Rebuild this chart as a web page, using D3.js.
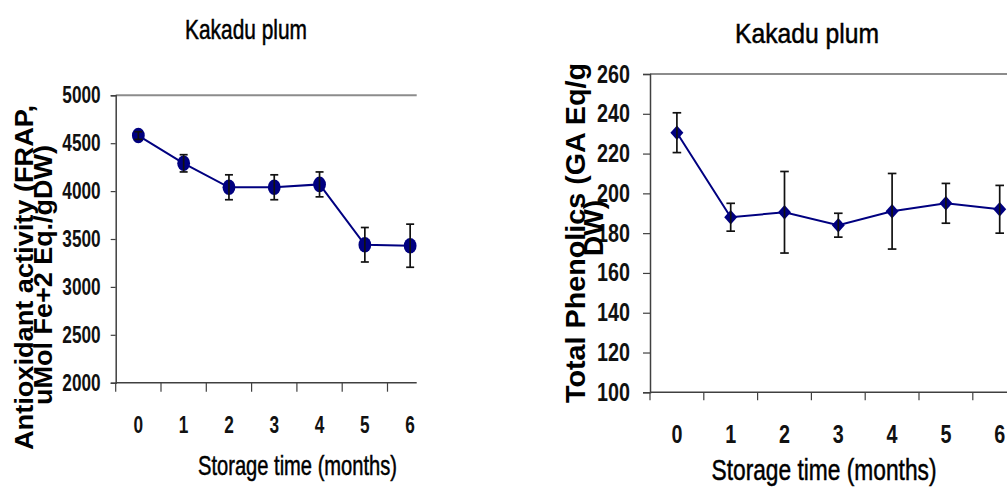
<!DOCTYPE html>
<html>
<head>
<meta charset="utf-8">
<script src="https://cdn.jsdelivr.net/npm/d3@7"></script>
<style>
  html, body { margin: 0; padding: 0; background: #fff; }
  svg { display: block; }
  .narrow { font-family: "Liberation Sans Narrow", "Arial Narrow", "Liberation Sans", Arial, sans-serif; }
  .bold { font-family: "Liberation Sans", Arial, sans-serif; font-weight: bold; }
</style>
</head>
<body>
<svg id="chart" width="1007" height="487"></svg>
<script>
// ---- data ----
const months = ["0", "1", "2", "3", "4", "5", "6"];
const frapMean = [4580, 4290, 4040, 4040, 4070, 3440, 3430];
const frapErr  = [40, 90, 130, 130, 130, 180, 225];
const phenMean = [230.5, 188, 190.5, 184, 191, 195, 192];
const phenErr  = [10, 7, 20.5, 6, 19, 10, 12];
const frapTicks = [2000, 2500, 3000, 3500, 4000, 4500, 5000];
const phenTicks = [100, 120, 140, 160, 180, 200, 220, 240, 260];
const titleText = "Kakadu plum";
const xTitle = "Storage time (months)";
const frapYTitle = ["Antioxidant activity (FRAP,", "uMol Fe+2 Eq./gDW)"];
const phenYTitle = ["Total Phenolics (GA Eq/g", "DW)"];

const svg = d3.select("#chart");
const navy = "#000080";

function panel(cfg) {
  const g = svg.append("g");
  const x = d3.scaleBand().domain(months).range([cfg.left, cfg.left + 7 * cfg.step]).padding(0);
  const y = d3.scaleLinear().domain(cfg.domain).range([cfg.bottom, cfg.top]);

  // top border (grey)
  g.append("line").attr("x1", cfg.left).attr("x2", cfg.clipRight)
    .attr("y1", y(cfg.domain[1])).attr("y2", y(cfg.domain[1]))
    .attr("stroke", "#8c8c8c").attr("stroke-width", 2);

  // y axis
  const yAxis = d3.axisLeft(y).tickValues(cfg.ticks).tickFormat(d3.format("d"))
    .tickSize(cfg.yTickLen).tickPadding(cfg.yPad);
  const ya = g.append("g").attr("transform", `translate(${cfg.left},0)`).call(yAxis);
  ya.select(".domain").attr("stroke", "#404040").attr("stroke-width", 1.5);
  ya.selectAll(".tick line").attr("stroke", "#404040").attr("stroke-width", 1.2);
  ya.selectAll(".tick text").attr("class", "narrow").attr("font-size", cfg.tickFont)
    .attr("fill", "#111").attr("font-weight", "bold")
    .attr("x", 0)
    .attr("transform", `translate(${-(cfg.yTickLen + cfg.yPad)},0) scale(${cfg.squeeze},1)`);

  // x axis line
  g.append("line").attr("x1", cfg.left).attr("x2", cfg.clipRight)
    .attr("y1", cfg.bottom).attr("y2", cfg.bottom)
    .attr("stroke", "#404040").attr("stroke-width", 1.5);
  // x ticks at band boundaries
  g.selectAll(".xt").data(months).enter().append("line")
    .attr("x1", d => x(d)).attr("x2", d => x(d))
    .attr("y1", cfg.bottom).attr("y2", cfg.bottom + cfg.xTickLen)
    .attr("stroke", "#404040").attr("stroke-width", 1.2);
  // x tick labels
  g.selectAll(".xl").data(months).enter().append("text")
    .attr("class", "narrow")
    .attr("transform", d => `translate(${x(d) + x.bandwidth() / 2},${cfg.xLabelY}) scale(${cfg.squeeze},1)`)
    .attr("text-anchor", "middle").attr("font-size", cfg.xTickFont)
    .attr("font-weight", "bold").attr("fill", "#111").text(d => d);

  const cx = d => x(d) + x.bandwidth() / 2;
  const pts = months.map((m, i) => ({ m, v: cfg.mean[i], e: cfg.err[i] }));

  // line
  g.append("path").datum(pts)
    .attr("d", d3.line().x(d => cx(d.m)).y(d => y(d.v)))
    .attr("fill", "none").attr("stroke", navy).attr("stroke-width", 2);

  // markers
  if (cfg.marker === "ellipse") {
    g.selectAll(".mk").data(pts).enter().append("ellipse")
      .attr("cx", d => cx(d.m)).attr("cy", d => y(d.v))
      .attr("rx", 6.4).attr("ry", 7.8).attr("fill", navy);
  } else {
    g.selectAll(".mk").data(pts).enter().append("path")
      .attr("d", d => {
        const px = cx(d.m), py = y(d.v), w = 6.5, h = 7.3;
        return `M${px},${py - h}L${px + w},${py}L${px},${py + h}L${px - w},${py}Z`;
      })
      .attr("fill", navy);
  }

  // error bars
  const eb = g.selectAll(".eb").data(pts).enter().append("g")
    .attr("stroke", "#111").attr("stroke-width", 1.7);
  eb.append("line").attr("x1", d => cx(d.m)).attr("x2", d => cx(d.m))
    .attr("y1", d => y(d.v + d.e)).attr("y2", d => y(d.v - d.e));
  eb.append("line").attr("x1", d => cx(d.m) - cfg.cap).attr("x2", d => cx(d.m) + cfg.cap)
    .attr("y1", d => y(d.v + d.e)).attr("y2", d => y(d.v + d.e));
  eb.append("line").attr("x1", d => cx(d.m) - cfg.cap).attr("x2", d => cx(d.m) + cfg.cap)
    .attr("y1", d => y(d.v - d.e)).attr("y2", d => y(d.v - d.e));

  // chart title
  g.append("text").attr("class", "narrow")
    .attr("x", cfg.titleX).attr("y", cfg.titleY).attr("text-anchor", "middle")
    .attr("font-size", cfg.titleFont).attr("fill", "#000")
    .attr("stroke", "#000").attr("stroke-width", 0.5)
    .attr("textLength", cfg.titleLen).attr("lengthAdjust", "spacingAndGlyphs")
    .text(titleText);

  // x title
  g.append("text").attr("class", "narrow")
    .attr("x", cfg.xTitleX).attr("y", cfg.xTitleY).attr("text-anchor", "middle")
    .attr("font-size", cfg.xTitleFont).attr("fill", "#000")
    .attr("stroke", "#000").attr("stroke-width", 0.5)
    .attr("textLength", cfg.xTitleLen).attr("lengthAdjust", "spacingAndGlyphs")
    .text(xTitle);

  // y title (two rotated lines)
  cfg.yTitle.forEach((t, i) => {
    const L = cfg.yLines[i];
    const el = g.append("text").attr("class", "bold")
      .attr("transform", `translate(${L.x},${L.cy}) rotate(-90)`)
      .attr("text-anchor", "middle").attr("font-size", cfg.yTitleFont).attr("fill", "#000")
      .text(t);
    if (L.len) el.attr("textLength", L.len).attr("lengthAdjust", "spacingAndGlyphs");
  });
}

panel({
  left: 115.7, step: 45.3, clipRight: 416.7, top: 95.3, bottom: 382.7,
  domain: [2000, 5000], ticks: frapTicks, mean: frapMean, err: frapErr,
  yTickLen: 5, yPad: 10, tickFont: 23, xTickLen: 9, xLabelY: 432.5, xTickFont: 23, squeeze: 0.75,
  marker: "ellipse", cap: 4,
  titleX: 246, titleY: 39, titleFont: 28, titleLen: 122,
  xTitleX: 297.5, xTitleY: 475, xTitleFont: 28, xTitleLen: 199,
  yTitle: frapYTitle, yTitleFont: 26,
  yLines: [{ x: 33, cy: 277.5, len: 345 }, { x: 52, cy: 275, len: 260 }]
});

panel({
  left: 650, step: 53.8, clipRight: 1007, top: 74, bottom: 392.3,
  domain: [100, 260], ticks: phenTicks, mean: phenMean, err: phenErr,
  yTickLen: 7, yPad: 13, tickFont: 25, xTickLen: 8, xLabelY: 442.5, xTickFont: 25, squeeze: 0.79,
  marker: "diamond", cap: 4.3,
  titleX: 807, titleY: 43, titleFont: 28, titleLen: 144,
  xTitleX: 824, xTitleY: 480, xTitleFont: 30, xTitleLen: 225,
  yTitle: phenYTitle, yTitleFont: 28,
  yLines: [{ x: 585, cy: 233, len: 340 }, { x: 603, cy: 228 }]
});
</script>
</body>
</html>
